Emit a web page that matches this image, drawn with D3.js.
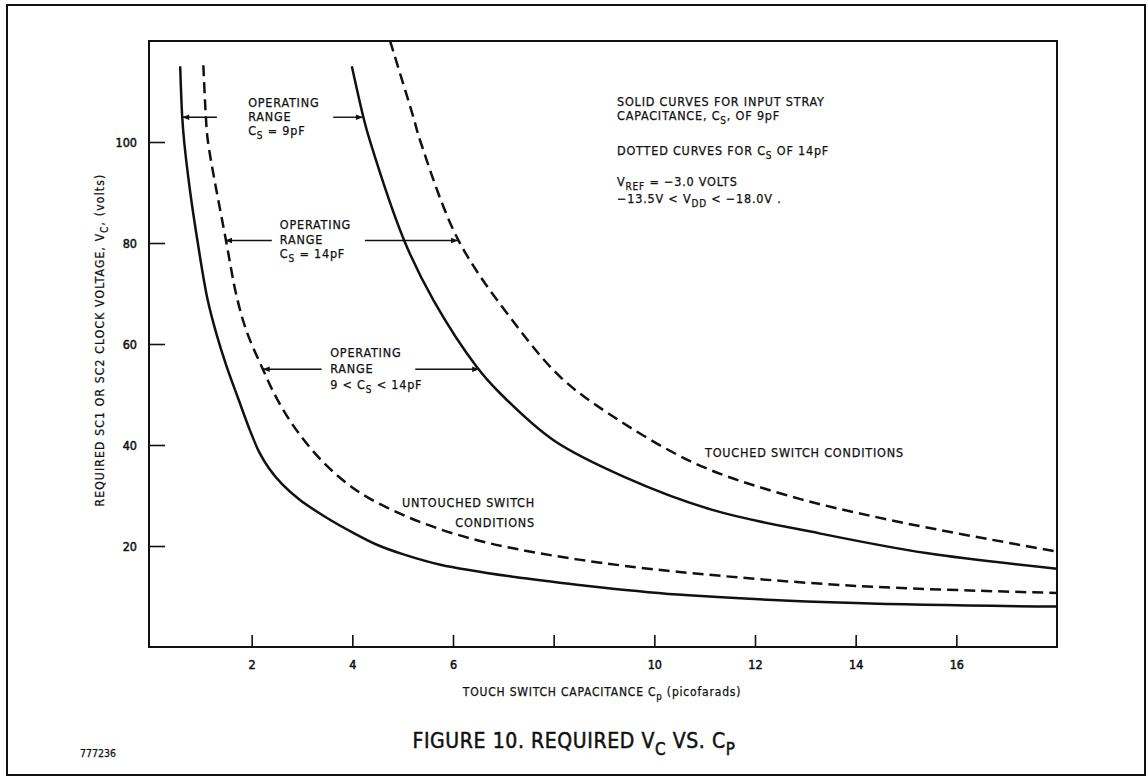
<!DOCTYPE html>
<html>
<head>
<meta charset="utf-8">
<script src="https://cdn.jsdelivr.net/npm/d3@7"></script>
<style>
  html, body { margin: 0; padding: 0; background: #fff; }
  svg { display: block; }
  text { font-family: "Liberation Sans Narrow", "DejaVu Sans Condensed", "Arial Narrow", sans-serif; fill: #111; }
</style>
</head>
<body>
<svg id="chart" width="1148" height="778"></svg>
<script>
// ---- data ----
const xTickValues = [2, 4, 6, 8, 10, 12, 14, 16];
const xTickLabels = [2, 4, 6, 10, 12, 14, 16];
const yTickValues = [20, 40, 60, 80, 100];

// Untouched switch, Cs = 9pF (solid)
const untouchedSolid = [
  [0.58, 115], [0.62, 105], [0.66, 100], [0.78, 90], [0.93, 80], [1.12, 69], [1.30, 62],
  [1.50, 55.6], [1.74, 49.0], [1.97, 42.8], [2.15, 38.6], [2.35, 35.3], [2.60, 32.3],
  [2.96, 29.1], [3.49, 25.6], [4.02, 22.6], [4.50, 20.2], [5.00, 18.4], [5.75, 16.3],
  [7.2, 13.9], [8.5, 12.3], [10.46, 10.4], [14.0, 8.7], [18.0, 8.0]
];
// Untouched switch, Cs = 14pF (dashed)
const untouchedDashed = [
  [1.04, 115.2], [1.09, 105], [1.13, 100.2], [1.49, 80.5], [1.70, 69.5], [1.90, 62.5],
  [2.20, 55.5], [2.50, 49.2], [2.90, 42.8], [3.49, 35.9], [4.16, 30.5], [4.95, 26.4],
  [5.75, 23.3], [6.54, 21.0], [7.27, 19.4], [8.5, 17.3], [10.46, 14.9], [14.0, 12.1], [18.0, 10.7]
];
// Touched switch, Cs = 9pF (solid)
const touchedSolid = [
  [3.99, 115], [4.22, 104.9], [4.35, 100.2], [5.03, 80.5], [5.61, 68.7], [6.47, 55.5],
  [6.94, 50.2], [7.99, 41.0], [9.4, 33.7], [11.17, 27.1], [13.28, 22.5], [15.4, 18.6], [18.0, 15.5]
];
// Touched switch, Cs = 14pF (dashed)
const touchedDashed = [
  [4.75, 120], [5.21, 105], [5.35, 100.2], [6.11, 80.5], [7.27, 63.5], [8.13, 53.5],
  [9.05, 46.5], [10.8, 36.4], [12.58, 30.2], [14.7, 25.1], [18.0, 18.9]
];
// Operating-range arrows: [y, fromX, toX]
const rangeArrows = [
  [104.9, 1.31, 0.62], [104.9, 3.62, 4.21],
  [80.5, 2.40, 1.47], [80.5, 4.25, 6.10],
  [55.0, 3.39, 2.22], [55.0, 5.25, 6.52]
];

// ---- layout ----
const FONT = '"Liberation Sans Narrow", "DejaVu Sans Condensed", "Arial Narrow", sans-serif';
const svg = d3.select("#chart");
const x = d3.scaleLinear().domain([0, 18]).range([151, 1057]);
const y = d3.scaleLinear().domain([0, 120]).range([647, 41]);

// outer border
svg.append("rect").attr("x", 7).attr("y", 5).attr("width", 1138).attr("height", 770)
  .attr("fill", "none").attr("stroke", "#111").attr("stroke-width", 2);

// plot frame
svg.append("rect").attr("x", 149).attr("y", 41).attr("width", 1057 - 149).attr("height", 647 - 41)
  .attr("fill", "none").attr("stroke", "#111").attr("stroke-width", 2);

// axes (ticks inside the frame)
const xAxis = d3.axisBottom(x).tickValues(xTickValues).tickSize(-12)
  .tickFormat(d => xTickLabels.includes(d) ? d : "");
const gx = svg.append("g").attr("transform", "translate(0,647)").call(xAxis);
gx.select(".domain").remove();
gx.selectAll(".tick line").attr("stroke", "#111").attr("stroke-width", 1.6);
gx.selectAll(".tick text").attr("dy", "1.5em").attr("font-size", 12.5)
  .attr("stroke", "#111").attr("stroke-width", 0.5)
  .attr("fill", "#111").style("font-family", FONT);

const yAxis = d3.axisLeft(y).tickValues(yTickValues).tickSize(-16).tickPadding(12);
const gy = svg.append("g").attr("transform", "translate(149,0)").call(yAxis);
gy.select(".domain").remove();
gy.selectAll(".tick line").attr("stroke", "#111").attr("stroke-width", 1.6);
gy.selectAll(".tick text").attr("font-size", 12.5)
  .attr("stroke", "#111").attr("stroke-width", 0.5)
  .attr("fill", "#111").style("font-family", FONT);

// curves
const line = d3.line().x(d => x(d[0])).y(d => y(d[1])).curve(d3.curveCatmullRom.alpha(0.5));
svg.append("clipPath").attr("id", "plotclip").append("rect")
  .attr("x", 149).attr("y", 41).attr("width", 1057 - 149).attr("height", 647 - 41);
const curves = svg.append("g").attr("clip-path", "url(#plotclip)");
[[untouchedSolid, null], [untouchedDashed, "11,6"], [touchedSolid, null], [touchedDashed, "11,6"]]
  .forEach(([data, dash]) => {
    curves.append("path").datum(data).attr("d", line).attr("fill", "none")
      .attr("stroke", "#111").attr("stroke-width", 2.5)
      .attr("stroke-dasharray", dash);
  });

// arrows
const defs = svg.append("defs");
defs.append("marker").attr("id", "arrowhead").attr("viewBox", "0 0 10 10")
  .attr("refX", 10).attr("refY", 5).attr("markerWidth", 9).attr("markerHeight", 7)
  .attr("markerUnits", "userSpaceOnUse").attr("orient", "auto")
  .append("path").attr("d", "M0,1 L10,5 L0,9 Z").attr("fill", "#111");
rangeArrows.forEach(([yy, x0, x1]) => {
  svg.append("line").attr("x1", x(x0)).attr("y1", y(yy)).attr("x2", x(x1)).attr("y2", y(yy))
    .attr("stroke", "#111").attr("stroke-width", 1.4).attr("marker-end", "url(#arrowhead)");
});

// helper for multi-part text with subscripts
function label(px, py, parts, size, anchor, extra) {
  const t = svg.append("text").attr("x", px).attr("y", py).attr("font-size", size)
    .attr("text-anchor", anchor || "start")
    .attr("stroke", "#111").attr("stroke-width", 0.25)
    .style("letter-spacing", (extra == null ? 0.8 : extra) + "px");
  let back = 0;
  parts.forEach(p => {
    if (typeof p === "string") {
      const s = t.append("tspan").text(p);
      if (back) { s.attr("dy", back); back = 0; }
    } else {
      t.append("tspan").attr("dy", size * 0.32).attr("font-size", size * 0.8).text(p.sub);
      back = -size * 0.32;
    }
  });
  return t;
}

const fs = 12.5;
// Operating range labels
label(x(1.93), y(104.9) - 10, ["OPERATING"], fs);
label(x(1.93), y(104.9) + 4, ["RANGE"], fs);
label(x(1.93), y(104.9) + 18, ["C", {sub: "S"}, " = 9pF"], fs);

label(x(2.56), y(80.5) - 11, ["OPERATING"], fs);
label(x(2.56), y(80.5) + 4, ["RANGE"], fs);
label(x(2.56), y(80.5) + 18, ["C", {sub: "S"}, " = 14pF"], fs);

label(x(3.56), y(55) - 12, ["OPERATING"], fs);
label(x(3.56), y(55) + 4, ["RANGE"], fs);
label(x(3.56), y(55) + 20, ["9 < C", {sub: "S"}, " < 14pF"], fs);

// notes block
label(617, 106, ["SOLID CURVES FOR INPUT STRAY"], fs);
label(617, 120, ["CAPACITANCE, C", {sub: "S"}, ", OF 9pF"], fs);
label(617, 155, ["DOTTED CURVES FOR C", {sub: "S"}, " OF 14pF"], fs);
label(617, 186, ["V", {sub: "REF"}, " = \u22123.0 VOLTS"], fs);
label(617, 203, ["\u221213.5V < V", {sub: "DD"}, " < \u221218.0V ."], fs);

// condition labels
label(705, 457, ["TOUCHED SWITCH CONDITIONS"], fs);
label(535, 507, ["UNTOUCHED SWITCH"], fs, "end");
label(535, 527, ["CONDITIONS"], fs, "end");

// axis titles
label(602, 696, ["TOUCH SWITCH CAPACITANCE C", {sub: "p"}, " (picofarads)"], 12, "middle", 0.8);
const yt = label(0, 0, ["REQUIRED SC1 OR SC2 CLOCK VOLTAGE, V", {sub: "C"}, ", (volts)"], 12, "middle", 1.2);
yt.attr("transform", "translate(104,340) rotate(-90)");

// figure title
label(574, 748, ["FIGURE 10. REQUIRED V", {sub: "C"}, " VS. C", {sub: "P"}], 21, "middle", 0.6)
  .attr("stroke-width", 0.5);
label(80, 757, ["777236"], 10.5, "start", 0);
</script>
</body>
</html>
